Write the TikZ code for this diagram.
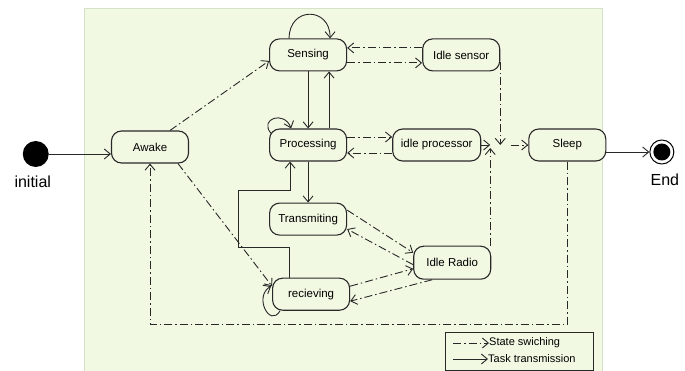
\documentclass[tikz,border=0pt]{standalone}
\usepackage{fontspec}
\setmainfont{Liberation Sans}
\usetikzlibrary{arrows.meta}
\usetikzlibrary{positioning}
\definecolor{panelgreen}{RGB}{241,249,227}
\definecolor{panelrim}{RGB}{212,226,198}
\definecolor{inkgray}{RGB}{40,40,40}
\tikzstyle{task} = [line width=0.9pt, draw=inkgray, -{Straight Barb[length=6pt,width=10pt]}]
\tikzstyle{switch} = [task, dash pattern=on 8pt off 3pt on 1.5pt off 3pt]
\tikzstyle{state} = [
    rectangle, rounded corners=10pt, minimum width=77pt, minimum height=32pt, text centered,
    draw=inkgray, line width=1.1pt, fill=panelgreen, font=\fontsize{11.5}{13}\selectfont]
\tikzstyle{pseudo} = [circle, fill=black, minimum size=26pt, inner sep=0pt]
\tikzstyle{final} = [
    circle, draw=black, line width=1pt, minimum size=24pt, inner sep=0pt,
    path picture={\fill[black] (path picture bounding box.center) circle (8.5pt);}]
\tikzstyle{caption} = [font=\fontsize{16}{18}\selectfont, inner sep=0pt]
\tikzstyle{legendtext} = [font=\fontsize{11}{13}\selectfont, inner sep=0pt, anchor=west]

\begin{document}
\begin{tikzpicture}[x=1pt,y=1pt]
\useasboundingbox (0,0) rectangle (685,-371);
\fill[panelgreen, draw=panelrim] (84,-8) rectangle (602,-372);

\node (awake) [state] at (150,-147) {Awake};
\node (processing) [state, right=80pt of awake, yshift=2pt] {Processing};
\node (sensing) [state, above=57pt of processing] {Sensing};
\node (transmiting) [state, below=41pt of processing] {Transmiting};
\node (recieving) [state, below=42pt of transmiting, xshift=3pt] {recieving};
\node (idlesensor) [state, right=75pt of sensing] {Idle sensor};
\node (idleproc) [state, minimum width=88pt, right=45pt of processing] {idle processor};
\node (idleradio) [state, minimum height=33pt, below right=10pt and 66pt of transmiting] {Idle Radio};
\node (sleep) [state, right=47pt of idleproc] {Sleep};

\node (initial) [pseudo, left=62pt of awake, yshift=-7pt] {};
\node (initlabel) [caption, below=9pt of initial, xshift=-3pt] {initial};
\node (end) [final, right=43pt of sleep, yshift=-7pt] {};
\node (endlabel) [caption, below=9pt of end, xshift=3pt] {End};

\coordinate (mergein) at ([xshift=9pt]idleproc.east);
\coordinate (mergeout) at ([xshift=30pt]idleproc.east);
\coordinate (detourlow) at (238,-247);
\coordinate (detourhigh) at (238,-190);

% task transmission
\draw [task] (initial.east) -- (awake.west |- initial);
\draw [task] (sleep.east |- end) -- (end);
\draw [task] (sensing.south) -- (processing.north);
\draw [task] ([xshift=21pt]processing.north) -- ([xshift=21pt]sensing.south);
\draw [task] (processing) -- (transmiting);
\draw [task] ([xshift=-22pt]recieving.north) |- (detourlow) -- (detourhigh) -| ([xshift=-18pt]processing.south);
\draw [task] (idleproc.east) -- (mergein);
\draw [task] ([xshift=-19pt]sensing.north) to[out=90, in=90, looseness=2] ([xshift=22pt]sensing.north);
\draw [task] ([xshift=2pt,yshift=-5pt]processing.north west) to[out=130, in=110, looseness=2.4] ([xshift=-17pt]processing.north);
\draw [task] ([xshift=-31pt]recieving.south) to[out=-120, in=210, looseness=2] ([xshift=-1pt,yshift=8pt]recieving.west);

% state switching
\draw [switch] ([xshift=20pt]awake.north) -- ([yshift=-6pt]sensing.west);
\draw [switch] ([xshift=28pt]awake.south) -- ([yshift=8pt]recieving.west);
\draw [switch] ([yshift=7pt]idlesensor.west) -- ([yshift=7pt]sensing.east);
\draw [switch] ([yshift=-8pt]sensing.east) -- ([yshift=-8pt]idlesensor.west);
\draw [switch] ([yshift=8pt]processing.east) -- ([yshift=8pt]idleproc.west);
\draw [switch] ([yshift=-8pt]idleproc.west) -- ([yshift=-8pt]processing.east);
\draw [switch] ([yshift=9pt]transmiting.east) -- ([yshift=10pt]idleradio.west);
\draw [switch] ([yshift=-2pt]idleradio.west) -- ([yshift=-10pt]transmiting.east);
\draw [switch] ([yshift=8pt]recieving.east) -- ([yshift=-6pt]idleradio.west);
\draw [switch] ([xshift=-20pt]idleradio.south) -- ([yshift=-7pt]recieving.east);
\draw [switch] ([yshift=-7pt]idlesensor.east) -- (idlesensor.east |- mergein);
\draw [switch] (mergein |- idleradio.north) -- ([yshift=-3pt]mergein);
\draw [switch] (mergeout) -- (sleep.west);
\draw [switch] (sleep.south) -- ++(0,-163) -| (awake.south);

% legend
\node (legend) [draw=inkgray, line width=0.9pt, minimum width=148pt, minimum height=38pt, anchor=north west] at (445,-332) {};
\node (switchtext) [legendtext] at (489,-343) {State swiching};
\node (tasktext) [legendtext] at (488,-359) {Task transmission};
\draw [switch] ([xshift=-36pt]switchtext.west) -- (switchtext.west);
\draw [task] ([xshift=-35pt]tasktext.west) -- (tasktext.west);
\end{tikzpicture}
\end{document}
